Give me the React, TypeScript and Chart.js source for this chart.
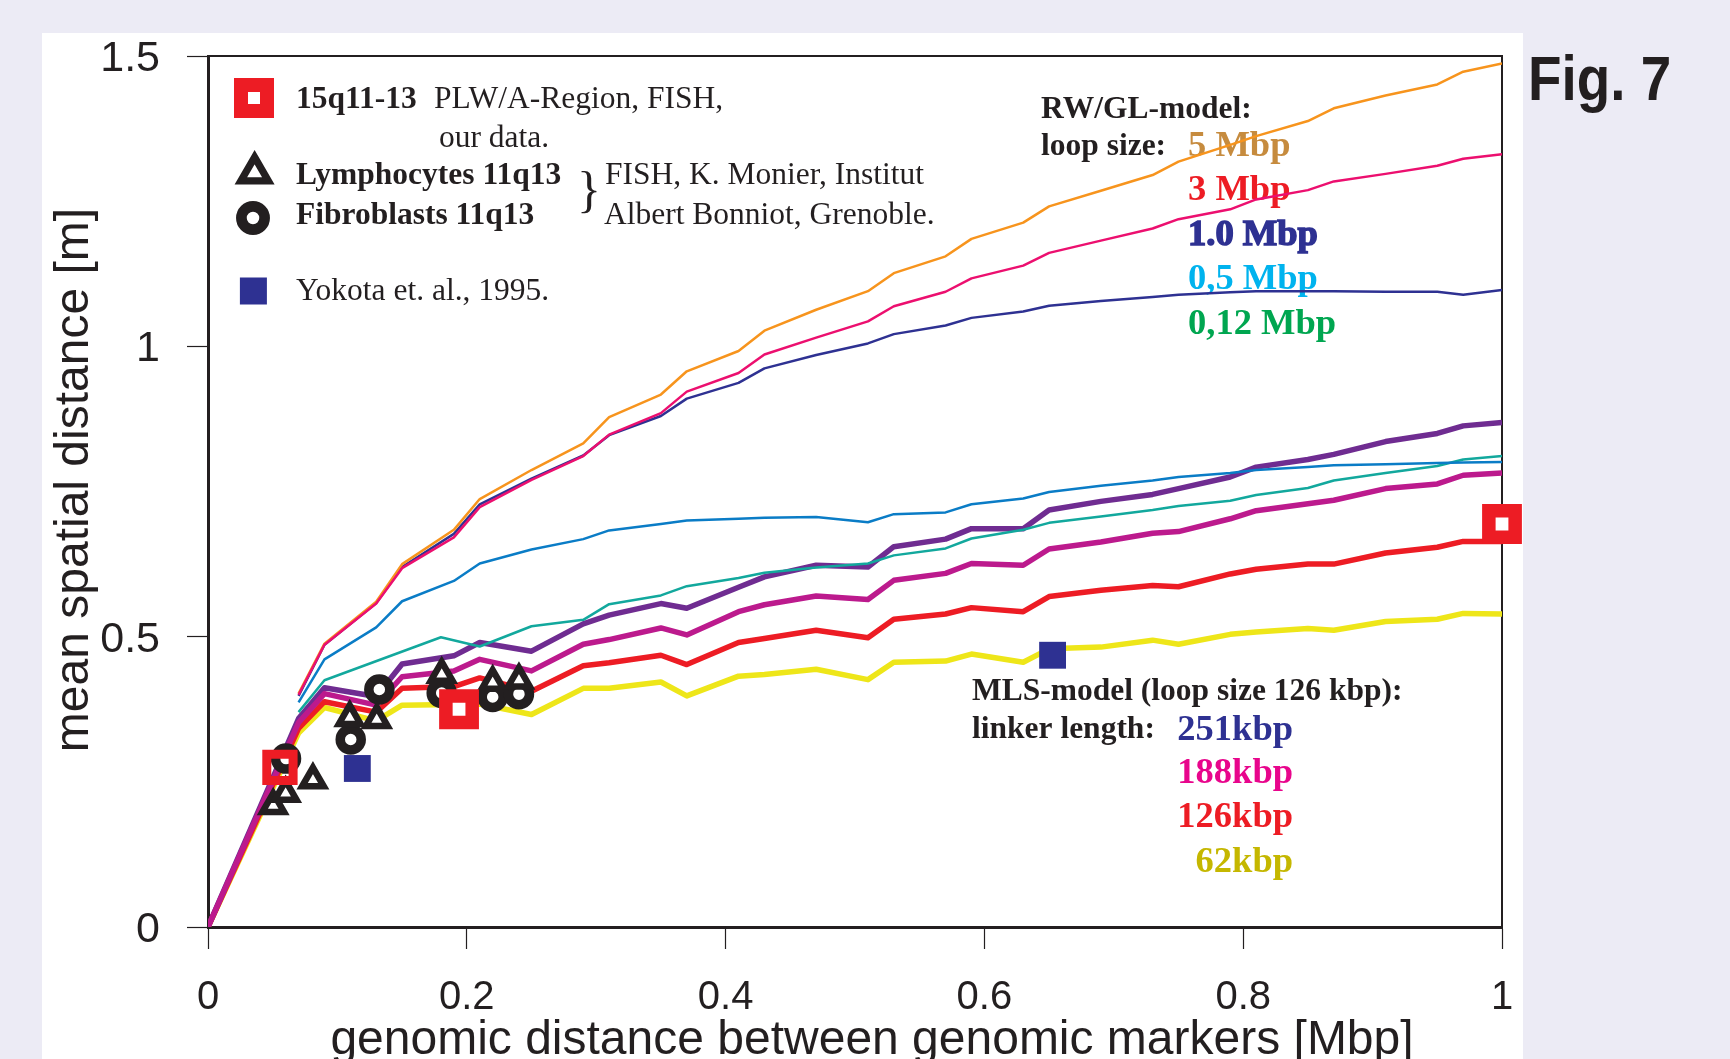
import React, { useEffect, useRef } from "react";
import { Chart, registerables } from "chart.js";

Chart.register(...registerables);

// ---------- data ----------
const xGrid = [0, 0.07, 0.09, 0.13, 0.15, 0.18, 0.19, 0.21, 0.25, 0.29, 0.31, 0.35, 0.37, 0.41, 0.43, 0.47, 0.51, 0.53, 0.57, 0.59, 0.63, 0.65, 0.69, 0.73, 0.75, 0.79, 0.81, 0.85, 0.87, 0.91, 0.95, 0.97, 1.0];

// RW/GL-model, loop sizes
const rw5Mbp = [null, 0.402, 0.488, 0.560, 0.625, null, 0.684, 0.737, 0.787, 0.833, 0.878, 0.917, 0.957, 0.992, 1.027, 1.063, 1.095, 1.126, 1.155, 1.185, 1.213, 1.241, 1.268, 1.295, 1.318, 1.347, 1.362, 1.388, 1.410, 1.432, 1.451, 1.473, 1.487];
const rw3Mbp = [null, 0.400, 0.486, 0.557, 0.618, null, 0.671, 0.723, 0.770, 0.811, 0.848, 0.885, 0.922, 0.954, 0.986, 1.015, 1.043, 1.069, 1.094, 1.117, 1.139, 1.161, 1.182, 1.203, 1.219, 1.236, 1.253, 1.269, 1.284, 1.297, 1.311, 1.323, 1.331];
const rw1Mbp = [null, 0.398, 0.486, 0.558, 0.620, null, 0.677, 0.728, 0.772, 0.812, 0.847, 0.880, 0.910, 0.937, 0.962, 0.985, 1.005, 1.021, 1.036, 1.049, 1.060, 1.070, 1.078, 1.085, 1.089, 1.093, 1.095, 1.095, 1.095, 1.094, 1.094, 1.089, 1.097];
const rw05Mbp = [null, 0.387, 0.461, 0.516, 0.561, null, 0.596, 0.626, 0.650, 0.668, 0.683, 0.694, 0.700, 0.703, 0.705, 0.706, 0.697, 0.711, 0.714, 0.728, 0.738, 0.749, 0.760, 0.769, 0.775, 0.782, 0.787, 0.792, 0.795, 0.797, 0.799, 0.800, 0.801];
const rw012Mbp = [null, 0.370, 0.425, null, null, 0.499, null, 0.483, 0.518, 0.529, 0.556, 0.571, 0.587, 0.601, 0.610, 0.619, 0.626, 0.640, 0.652, 0.669, 0.684, 0.696, 0.707, 0.718, 0.725, 0.734, 0.744, 0.756, 0.769, 0.782, 0.794, 0.805, 0.811];

// MLS-model, linker lengths
const mls251 = [0, 0.359, 0.412, 0.397, 0.453, null, 0.467, 0.490, 0.475, 0.522, 0.537, 0.557, 0.549, 0.585, 0.603, 0.623, 0.620, 0.655, 0.668, 0.686, 0.686, 0.718, 0.733, 0.745, 0.755, 0.775, 0.792, 0.805, 0.814, 0.836, 0.850, 0.863, 0.869];
const mls188 = [0, 0.352, 0.402, 0.382, 0.431, null, 0.441, 0.461, 0.441, 0.487, 0.495, 0.515, 0.503, 0.543, 0.555, 0.570, 0.564, 0.597, 0.609, 0.626, 0.623, 0.651, 0.663, 0.678, 0.681, 0.703, 0.717, 0.729, 0.735, 0.755, 0.763, 0.778, 0.782];
const mls126 = [0, 0.342, 0.388, 0.370, 0.411, null, 0.414, 0.429, 0.406, 0.450, 0.455, 0.468, 0.452, 0.490, 0.497, 0.511, 0.498, 0.530, 0.539, 0.550, 0.543, 0.569, 0.580, 0.588, 0.586, 0.608, 0.616, 0.625, 0.625, 0.644, 0.654, 0.664, 0.664];
const mls62 = [0, 0.334, 0.378, 0.355, 0.382, null, 0.383, 0.384, 0.366, 0.411, 0.411, 0.422, 0.398, 0.432, 0.435, 0.444, 0.426, 0.456, 0.458, 0.470, 0.456, 0.479, 0.482, 0.494, 0.487, 0.504, 0.508, 0.514, 0.511, 0.526, 0.530, 0.540, 0.539];

// measurements
const fish15qX = [0.0556, 0.194, 1.0];
const fish15qY = [0.275, 0.375, 0.694];
const lymphoX = [0.0504, 0.06, 0.0811, 0.1095, 0.1304, 0.1806, 0.22, 0.2403];
const lymphoY = [0.209, 0.230, 0.253, 0.3605, 0.357, 0.435, 0.421, 0.425];
const fibroX = [0.0603, 0.1103, 0.1324, 0.1806, 0.22, 0.2403];
const fibroY = [0.290, 0.323, 0.409, 0.403, 0.396, 0.401];
const yokotaX = [0.1154, 0.6527];
const yokotaY = [0.273, 0.468];

const xTicks = [0, 0.2, 0.4, 0.6, 0.8, 1];
const xTickLabels = ["0", "0.2", "0.4", "0.6", "0.8", "1"];
const yTicks = [0, 0.5, 1, 1.5];
const yTickLabels = ["0", "0.5", "1", "1.5"];
const xTitle = "genomic distance between genomic markers [Mbp]";
const yTitle = "mean spatial distance [m]";

// ---------- styling ----------
const SANS = '"Liberation Sans", Arial, Helvetica, sans-serif';
const SERIF = '"Liberation Serif", "Times New Roman", Times, serif';
const INK = "#231F20";
const BG = "#ECEBF5";

const pts = (xs: number[], ys: (number | null)[]) => xs.map((x, i) => ({ x, y: ys[i] }));

function lineDs(label: string, ys: (number | null)[], color: string, width: number) {
  return {
    label,
    data: pts(xGrid, ys),
    borderColor: color,
    backgroundColor: color,
    borderWidth: width,
    pointRadius: 0,
    pointHoverRadius: 0,
    tension: 0,
    spanGaps: true,
    borderJoinStyle: "round" as const,
    borderCapStyle: "butt" as const,
    fill: false,
  };
}

function text(ctx: CanvasRenderingContext2D, s: string, x: number, y: number, font: string, color: string, align: CanvasTextAlign = "left") {
  ctx.font = font;
  ctx.fillStyle = color;
  ctx.textAlign = align;
  ctx.textBaseline = "alphabetic";
  ctx.fillText(s, x, y);
}

const decorPlugin = {
  id: "decor",
  beforeDraw(chart: any) {
    const ctx: CanvasRenderingContext2D = chart.ctx;
    ctx.save();
    ctx.fillStyle = BG;
    ctx.fillRect(0, 0, chart.width, chart.height);
    ctx.fillStyle = "#ffffff";
    ctx.fillRect(42, 33, 1481, chart.height - 33);
    ctx.restore();
  },
  beforeDatasetsDraw(chart: any) {
    const ctx: CanvasRenderingContext2D = chart.ctx;
    const a = chart.chartArea;
    ctx.save();
    // frame (top + right)
    ctx.strokeStyle = INK;
    ctx.lineWidth = 2;
    ctx.beginPath();
    ctx.moveTo(a.left, a.top);
    ctx.lineTo(a.right, a.top);
    ctx.lineTo(a.right, a.bottom);
    ctx.stroke();

    // axis titles
    ctx.font = `48px ${SANS}`;
    ctx.fillStyle = INK;
    ctx.textAlign = "center";
    ctx.textBaseline = "middle";
    ctx.fillText(xTitle, 872, 1041);
    ctx.save();
    ctx.translate(75, 480);
    ctx.rotate(-Math.PI / 2);
    ctx.fillText(yTitle, 0, 0);
    ctx.restore();

    const b31 = `bold 31.5px ${SERIF}`;
    const r31 = `31.5px ${SERIF}`;
    const b36 = `bold 36.5px ${SERIF}`;

    // top-left legend texts
    text(ctx, "15q11-13", 296, 108, b31, INK);
    text(ctx, "PLW/A-Region, FISH,", 434, 108, r31, INK);
    text(ctx, "our data.", 439, 147, r31, INK);
    text(ctx, "Lymphocytes 11q13", 296, 184, b31, INK);
    text(ctx, "}", 577, 206, `50px ${SERIF}`, INK);
    text(ctx, "FISH, K. Monier, Institut", 605, 184, r31, INK);
    text(ctx, "Fibroblasts 11q13", 296, 224, b31, INK);
    text(ctx, "Albert Bonniot, Grenoble.", 604, 224, r31, INK);
    text(ctx, "Yokota et. al., 1995.", 296, 300, r31, INK);

    // RW/GL-model legend
    text(ctx, "RW/GL-model:", 1041, 118, b31, INK);
    text(ctx, "loop size:", 1041, 155, b31, INK);
    text(ctx, "5 Mbp", 1188, 156, b36, "#C68B3E");
    text(ctx, "3 Mbp", 1188, 200, b36, "#ED1C24");
    text(ctx, "1.0 Mbp", 1188, 245, b36, "#2E3192");
    ctx.strokeStyle = "#2E3192";
    ctx.lineWidth = 1.5;
    ctx.strokeText("1.0 Mbp", 1188, 245);
    text(ctx, "0,5 Mbp", 1188, 289, b36, "#00B3EE");
    text(ctx, "0,12 Mbp", 1188, 334, b36, "#00A650");

    // MLS-model legend
    text(ctx, "MLS-model (loop size 126 kbp):", 972, 700, b31, INK);
    text(ctx, "linker length:", 972, 738, b31, INK);
    text(ctx, "251kbp", 1293, 740, b36, "#2E3192", "right");
    text(ctx, "188kbp", 1293, 783, b36, "#E8058C", "right");
    text(ctx, "126kbp", 1293, 827, b36, "#ED1C24", "right");
    text(ctx, "62kbp", 1293, 872, b36, "#C5B700", "right");

    // Fig. 7
    ctx.save();
    ctx.translate(1528, 100);
    ctx.scale(0.87, 1);
    text(ctx, "Fig. 7", 0, 0, `bold 63px ${SANS}`, INK);
    ctx.restore();

    // legend symbols
    ctx.lineJoin = "miter";
    ctx.fillStyle = "#ffffff";
    ctx.strokeStyle = "#ED1C24";
    ctx.lineWidth = 14;
    ctx.beginPath();
    ctx.rect(254 - 13, 98 - 13, 26, 26);
    ctx.fill();
    ctx.stroke();
    // triangle
    const tr = 15.9;
    const tx = 254.6, ty = 173;
    ctx.beginPath();
    for (let k = 0; k < 3; k++) {
      const ang = (k * 2 * Math.PI) / 3;
      const px = tx + Math.sin(ang) * tr;
      const py = ty - Math.cos(ang) * tr;
      if (k === 0) ctx.moveTo(px, py); else ctx.lineTo(px, py);
    }
    ctx.closePath();
    ctx.fillStyle = "#ffffff";
    ctx.fill();
    ctx.strokeStyle = INK;
    ctx.lineWidth = 7.2;
    ctx.stroke();
    // circle
    ctx.beginPath();
    ctx.arc(253, 218, 11.6, 0, Math.PI * 2);
    ctx.fill();
    ctx.lineWidth = 10.7;
    ctx.stroke();
    // blue square
    ctx.fillStyle = "#2E3192";
    ctx.fillRect(253.4 - 13.5, 291 - 13.5, 27, 27);
    ctx.restore();
  },
};

export default function App() {
  const ref = useRef<HTMLCanvasElement | null>(null);

  useEffect(() => {
    if (!ref.current) return;
    const chart = new Chart(ref.current, {
      type: "line",
      data: {
        datasets: [
          {
            label: "15q11-13",
            data: pts(fish15qX, fish15qY),
            showLine: false,
            pointStyle: "rect",
            pointRadius: 18.6,
            pointHoverRadius: 18.6,
            pointBorderWidth: [9, 13.5, 13.5],
            pointBorderColor: "#ED1C24",
            pointBackgroundColor: ["rgba(255,255,255,0)", "#ffffff", "#ffffff"],
            clip: false,
          } as any,
          {
            label: "Lymphocytes 11q13",
            data: pts(lymphoX, lymphoY),
            showLine: false,
            pointStyle: "triangle",
            pointRadius: 12.5,
            pointHoverRadius: 12.5,
            pointBorderWidth: 6.5,
            pointBorderColor: INK,
            pointBackgroundColor: "#ffffff",
            clip: false,
          } as any,
          {
            label: "Fibroblasts 11q13",
            data: pts(fibroX, fibroY),
            showLine: false,
            pointStyle: "circle",
            pointRadius: 10.5,
            pointHoverRadius: 10.5,
            pointBorderWidth: 9.5,
            pointBorderColor: INK,
            pointBackgroundColor: "#ffffff",
            clip: false,
          } as any,
          {
            label: "Yokota et. al., 1995",
            data: pts(yokotaX, yokotaY),
            showLine: false,
            pointStyle: "rect",
            pointRadius: 19,
            pointHoverRadius: 19,
            pointBorderWidth: 0,
            pointBackgroundColor: "#2E3192",
            pointBorderColor: "#2E3192",
            clip: false,
          } as any,
          lineDs("3 Mbp", rw3Mbp, "#EC0F6F", 2.5),
          lineDs("5 Mbp", rw5Mbp, "#F7941D", 2.5),
          lineDs("1.0 Mbp", rw1Mbp, "#2E3192", 2.5),
          lineDs("0,5 Mbp", rw05Mbp, "#0A7CC6", 2.5),
          lineDs("0,12 Mbp", rw012Mbp, "#12A89D", 2.5),
          lineDs("188kbp", mls188, "#BC1A8D", 5.5),
          lineDs("251kbp", mls251, "#6F2C91", 5.5),
          lineDs("126kbp", mls126, "#ED1C24", 5.5),
          lineDs("62kbp", mls62, "#EEE619", 5.5),
        ] as any,
      },
      options: {
        animation: false,
        responsive: false,
        maintainAspectRatio: false,
        devicePixelRatio: 1,
        events: [],
        layout: { padding: { left: 0, right: 228, top: 56, bottom: 0 } },
        plugins: {
          legend: { display: false },
          tooltip: { enabled: false },
        },
        scales: {
          x: {
            type: "linear",
            min: 0,
            max: 1,
            afterFit: (s: any) => {
              s.height = 173;
            },
            afterBuildTicks: (s: any) => {
              s.ticks = xTicks.map((v) => ({ value: v }));
            },
            ticks: {
              autoSkip: false,
              maxRotation: 0,
              padding: 25,
              color: INK,
              font: { family: SANS, size: 40 },
              callback: (_v: any, i: number) => xTickLabels[i],
            },
            grid: {
              drawOnChartArea: false,
              drawTicks: true,
              tickLength: 22,
              tickWidth: 1.2,
              tickColor: INK,
              color: INK,
            },
            border: { display: true, color: INK, width: 3 },
            title: { display: false },
          },
          y: {
            type: "linear",
            min: 0,
            max: 1.5,
            afterFit: (s: any) => {
              s.width = 208;
            },
            afterBuildTicks: (s: any) => {
              s.ticks = yTicks.map((v) => ({ value: v }));
            },
            ticks: {
              autoSkip: false,
              padding: 27,
              labelOffset: 3,
              color: INK,
              font: { family: SANS, size: 43 },
              callback: (_v: any, i: number) => yTickLabels[i],
            },
            grid: {
              drawOnChartArea: false,
              drawTicks: true,
              tickLength: 21,
              tickWidth: 1.2,
              tickColor: INK,
              color: INK,
            },
            border: { display: true, color: INK, width: 3 },
            title: { display: false },
          },
        },
      } as any,
      plugins: [decorPlugin],
    });
    return () => chart.destroy();
  }, []);

  return (
    <div
      style={{
        position: "fixed",
        left: 0,
        top: 0,
        width: 1730,
        height: 1059,
        overflow: "hidden",
        background: BG,
      }}
    >
      <canvas ref={ref} width={1730} height={1100} style={{ display: "block", width: 1730, height: 1100 }} />
    </div>
  );
}
